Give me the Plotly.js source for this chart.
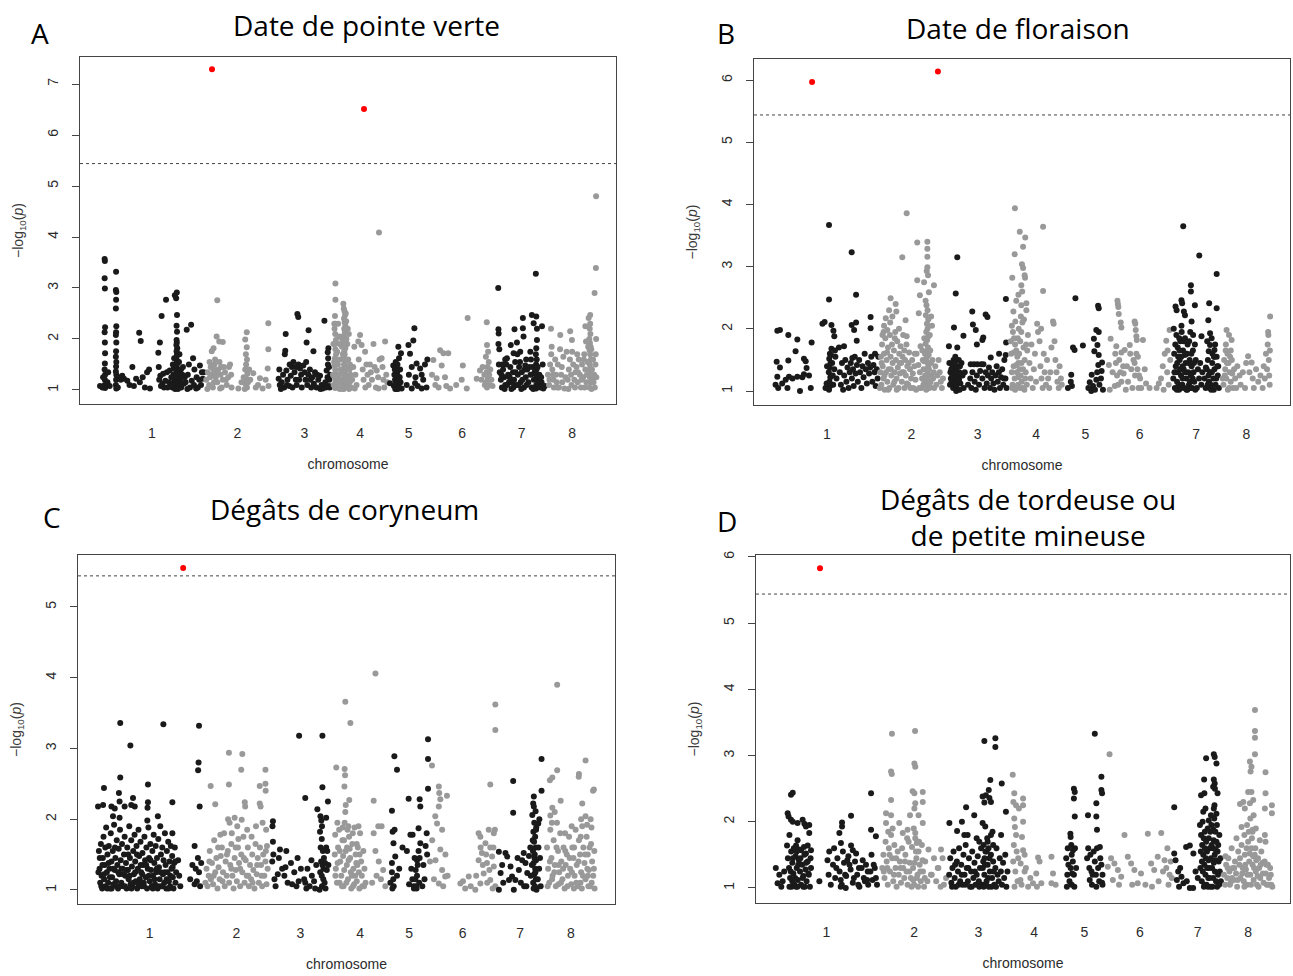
<!DOCTYPE html>
<html>
<head>
<meta charset="utf-8">
<script src="https://cdn.plot.ly/plotly-3.0.1.min.js"></script>
<style>
  html, body { margin: 0; padding: 0; background: #ffffff; }
  #chart { width: 1293px; height: 976px; }
</style>
</head>
<body>
<div id="chart"></div>
<script>
// Peach genome: 8 chromosomes, lengths in Mb
const chromosomes = ['1', '2', '3', '4', '5', '6', '7', '8'];
const chromLengthsMb = [47.9, 30.4, 27.4, 25.8, 18.5, 30.8, 22.4, 22.6];
const significanceLine = 5.44;

const traitTitles = [
  'Date de pointe verte',
  'Date de floraison',
  'Dégâts de coryneum',
  'Dégâts de tordeuse ou<br>de petite mineuse'
];
const panelLetters = ['A', 'B', 'C', 'D'];

// SNP results, one list per chromosome: position (Mb), -log10(p), position, -log10(p), ...
const snpPointeVerte = [
  [0.1,1.08, 2.2,3.57, 2.3,3.53, 2.2,3.19, 2.3,2.99, 2.4,2.23, 2.2,2.13, 2.3,1.93, 2.4,1.72, 2.3,1.52, 2.2,1.40, 2.4,1.30, 2.3,1.20, 2.2,1.10, 2.4,1.04,
   1.5,1.25, 3.5,1.15, 1.2,1.05, 3.8,1.35, 4.5,1.08,
   7.4,3.32, 7.3,2.96, 7.5,2.92, 7.4,2.77, 7.3,2.60, 7.5,2.25, 7.4,2.13, 7.3,2.08, 7.5,1.93, 7.4,1.76, 7.3,1.65, 7.5,1.55, 7.4,1.46, 7.3,1.36, 7.5,1.30, 7.4,1.20, 7.3,1.10, 7.5,1.03,
   8.5,1.25, 9.5,1.20, 8.2,1.05, 10.2,1.28, 11,1.22, 12.5,1.18, 13.5,1.10, 14.8,1.45, 15.5,1.08, 16.5,1.22, 17.9,2.12, 18.6,1.96, 18.2,1.15, 19.5,1.25, 20.5,1.05, 21.5,1.35, 22.4,1.40, 22.8,1.03,
   26.6,1.73, 27.3,1.93, 28.1,2.45, 30.1,2.77, 26.8,1.45, 27.5,1.28, 28.5,1.12, 29.2,1.05, 27.0,1.20, 30.5,1.35, 31.5,1.15, 32.5,1.25, 33.2,1.50, 33.0,1.05,
   34.1,2.86, 35.0,2.91, 34.7,2.80, 35.1,2.47, 34.9,2.26, 35.1,2.14, 34.9,1.98, 35.0,1.93, 34.8,1.88, 35.2,1.82, 34.9,1.76, 35.1,1.70, 34.8,1.64, 35.0,1.58, 35.2,1.52, 34.9,1.46, 35.1,1.40, 34.8,1.34, 35.0,1.28, 35.2,1.22, 34.9,1.16, 35.1,1.10, 34.8,1.04,
   33.8,1.62, 36.0,1.55, 33.5,1.30, 36.2,1.35, 36.5,1.20, 33.8,1.15, 36.6,1.08, 37.5,1.30, 38.2,1.12, 37.8,1.45,
   39.5,2.18, 41.5,2.28, 42.4,1.62, 43.0,1.40, 44.0,1.25, 45.5,1.48, 46.0,1.10, 40.0,1.30, 41.0,1.05, 43.8,1.03, 46.8,1.22, 39.0,1.15, 40.5,1.50, 47.2,1.35,
   27.8,1.08, 28.8,1.32, 29.8,1.18, 30.8,1.05, 31.8,1.38, 32.8,1.10, 33.6,1.42, 34.4,1.50, 34.5,1.20, 35.6,1.30, 35.8,1.12, 36.2,1.70, 37.0,1.05, 38.6,1.25, 39.8,1.02, 41.8,1.18, 42.8,1.10, 44.6,1.05, 45.2,1.20, 46.4,1.35, 34.2,1.02, 35.5,1.02, 33.9,1.25, 36.9,1.40],
  [3.1,7.29, 5.5,2.76, 5.2,2.05, 6.4,1.95, 8.0,1.94, 3.8,1.82, 3.0,1.76,
   0.5,1.20, 1.2,1.35, 1.8,1.10, 2.5,1.45, 3.2,1.30, 3.5,1.05, 4.2,1.50, 4.8,1.25, 5.5,1.15, 6.0,1.40, 6.5,1.55, 7.0,1.30, 7.5,1.05, 8.0,1.20, 8.5,1.45, 9.0,1.35, 9.8,1.10, 10.5,1.25, 11.3,1.50, 12.0,1.05, 4.5,1.60, 2.0,1.55, 6.8,1.03, 3.8,1.40,
   18.9,2.13, 18.2,1.99, 18.9,1.84, 18.5,1.70, 19.0,1.60, 18.6,1.50, 18.2,1.40, 19.2,1.32, 18.7,1.22, 18.3,1.12, 19.0,1.05, 17.5,1.25, 20.0,1.40, 16.5,1.15, 15.1,1.03, 20.5,1.20,
   21.9,1.33, 24.9,1.23, 24.0,1.10, 26.1,1.03, 23.0,1.05, 28.7,2.31, 28.7,1.80, 28.4,1.42, 28.8,1.08, 27.5,1.20,
   1.0,1.02, 2.2,1.25, 4.0,1.15, 5.0,1.35, 7.2,1.45, 9.4,1.20, 10.8,1.45, 11.8,1.30, 18.0,1.02, 19.5,1.15],
  [6.2,2.10, 6.0,1.77, 5.8,1.70, 11.5,2.49, 11.9,2.43, 16.6,2.17, 15.7,1.93, 18.8,1.76, 23.8,2.36, 25.6,1.82, 25.3,1.74, 25.5,1.62, 25.4,1.50,
   3.0,1.22, 3.5,1.10, 4.4,1.15, 5.0,1.30, 5.5,1.05, 6.5,1.38, 7.0,1.20, 7.8,1.08, 8.5,1.28, 9.0,1.45, 9.7,1.55, 10.2,1.35, 10.8,1.20, 11.2,1.10, 12.0,1.50, 12.7,1.42, 13.2,1.30, 13.5,1.05, 14.2,1.48, 14.8,1.35, 15.2,1.20, 16.0,1.10, 16.5,1.30, 17.2,1.40, 17.8,1.05, 18.3,1.25, 19.0,1.12, 19.5,1.35, 20.2,1.05, 21.0,1.20, 21.8,1.28, 22.5,1.10, 23.0,1.03, 24.2,1.15, 24.8,1.38, 25.2,1.25, 25.8,1.08, 26.2,1.05, 26.4,1.30,
   3.3,1.40, 4.0,1.02, 6.8,1.10, 8.0,1.50, 9.3,1.05, 11.0,1.45, 12.3,1.20, 15.5,1.55, 17.5,1.20, 20.5,1.30, 22.0,1.02, 24.5,1.05, 26.0,1.20, 25.9,1.45],
  [14.4,6.51, 1.4,3.09, 1.4,2.77, 5.0,2.69, 5.2,2.60, 5.5,2.55, 5.8,2.47, 5.3,2.40, 5.6,2.33, 5.9,2.26, 5.4,2.20, 5.7,2.13, 5.1,2.06, 5.8,2.00, 5.5,1.94, 5.2,1.88, 5.9,1.82, 5.4,1.76, 5.6,1.70, 5.1,1.63, 5.8,1.57, 5.3,1.50, 5.6,1.44, 5.9,1.38, 5.2,1.32, 5.5,1.26, 5.8,1.20, 5.3,1.14, 5.6,1.08, 5.1,1.02,
   1.2,2.45, 1.5,2.30, 1.0,2.20, 1.3,2.10, 1.6,1.98, 1.1,1.90, 1.4,1.80, 1.7,1.70, 1.2,1.62, 1.5,1.55, 1.0,1.48, 1.3,1.40, 1.6,1.32, 1.1,1.25, 1.4,1.18, 1.7,1.10, 1.2,1.04,
   2.5,1.50, 3.0,1.30, 2.8,1.15, 3.5,1.60, 3.8,1.40, 4.0,1.20, 4.3,1.05, 2.2,1.75, 3.3,1.90, 4.5,2.00, 7.0,2.20, 6.8,1.90, 7.2,1.60, 6.5,1.45, 7.5,1.25, 6.9,1.10, 8.0,1.50, 8.2,1.30, 8.5,1.05, 7.5,2.10,
   9.0,1.20, 9.5,1.45, 10.0,1.85, 10.5,1.30, 11.0,1.10, 11.8,1.95, 12.6,2.08, 12.0,1.60, 13.3,1.88, 13.8,1.40, 14.2,1.20, 14.9,1.75, 15.5,1.50, 16.0,1.30, 16.5,1.10, 17.1,1.50, 17.5,1.35, 18.0,1.20, 18.7,1.90, 19.2,1.45, 19.8,1.05, 20.2,1.38, 20.8,1.25, 21.2,4.09, 21.5,1.60, 22.4,1.62, 22.8,1.45, 23.2,1.20, 23.6,1.05, 24.0,1.95, 24.5,1.30, 25.0,1.15, 10.2,1.03, 15.0,1.05, 21.0,1.03,
   0.3,1.30, 0.6,1.10, 0.8,1.55, 0.5,1.90, 0.9,2.30, 2.0,1.25, 2.3,1.05, 3.6,1.15, 4.6,1.35, 4.8,1.70, 6.2,1.05, 6.2,1.60, 6.4,2.00, 6.6,1.25, 7.8,1.40, 7.9,1.15, 4.4,1.85, 3.1,2.05, 2.6,2.30, 6.1,2.50, 6.3,2.35, 6.0,1.30, 4.9,1.02, 3.4,1.02, 7.6,1.02],
  [11.5,2.21, 11.0,1.97, 8.8,1.88, 4.2,1.85, 5.4,1.72, 9.5,1.71, 4.5,1.62, 1.9,1.48, 3.5,1.38, 2.7,1.20, 4.2,1.10, 0.4,1.13, 5.7,1.03,
   3.0,1.55, 3.3,1.45, 3.6,1.35, 3.9,1.28, 4.1,1.20, 3.2,1.15, 3.7,1.10, 4.4,1.06, 3.4,1.02, 4.8,1.25, 2.4,1.30, 2.2,1.08, 5.0,1.40, 5.2,1.15,
   10.3,1.45, 12.5,1.52, 14.1,1.42, 14.8,1.30, 16.3,1.50, 17.4,1.60, 11.8,1.13, 10.3,1.03, 14.8,1.03, 9.0,1.30, 12.0,1.25, 13.0,1.08, 15.5,1.20, 17.0,1.05, 8.0,1.10,
   2.8,1.02, 3.8,1.50, 4.6,1.18, 2.6,1.40, 4.0,1.02],
  [1.6,1.59, 4.7,1.78, 6.2,1.72, 8.4,1.72, 5.4,1.48, 3.1,1.23, 6.9,1.25, 1.0,1.30, 2.5,1.10, 9.2,1.03, 7.5,1.08, 4.0,1.05, 12.0,1.10, 15.0,1.48, 14.5,1.20, 16.8,1.03, 17.2,2.41, 21.3,1.22, 22.8,1.38,
   25.9,2.33, 26.0,1.88, 26.5,1.75, 25.5,1.65, 26.8,1.55, 26.2,1.45, 25.8,1.35, 27.0,1.30, 26.4,1.22, 25.6,1.15, 27.2,1.10, 26.0,1.05, 27.5,1.40, 28.0,1.20, 24.8,1.30, 25.0,1.10, 28.5,1.08, 24.0,1.45, 23.5,1.20],
  [0.3,3.00, 0.4,2.19, 0.5,2.11, 0.4,1.90, 0.8,1.80, 17.4,3.28, 7.7,2.19, 11.5,2.41, 11.5,2.21, 15.6,2.47, 16.4,2.31, 17.6,2.44, 20.2,2.25, 6.0,1.88, 8.8,1.93, 11.8,2.05, 7.3,1.72, 4.3,1.62, 10.3,1.75,
   17.9,2.20, 17.9,1.98, 17.6,1.82, 17.4,1.70, 17.8,1.60, 17.5,1.50, 17.7,1.40, 17.4,1.30, 17.9,1.20, 17.6,1.10, 17.5,1.03, 14.9,1.75, 12.6,1.48,
   0.6,1.50, 1.0,1.35, 1.5,1.20, 2.0,1.05, 2.5,1.40, 3.0,1.25, 3.5,1.10, 4.0,1.50, 4.8,1.30, 5.2,1.15, 5.8,1.45, 6.3,1.02, 7.0,1.35, 7.5,1.20, 8.0,1.55, 8.5,1.10, 9.2,1.30, 9.8,1.45, 10.5,1.15, 11.0,1.35, 12.0,1.05, 12.8,1.25, 13.5,1.40, 14.0,1.15, 15.0,1.30, 15.5,1.05, 16.0,1.45, 16.5,1.20, 18.5,1.10, 19.0,1.30, 19.5,1.05, 20.0,1.15, 20.8,1.03, 21.5,1.08, 13.0,1.60, 9.0,1.70, 3.5,1.60,
   1.8,1.30, 2.2,1.50, 3.2,1.02, 4.5,1.10, 5.5,1.25, 6.6,1.15, 7.2,1.05, 8.2,1.35, 9.5,1.10, 10.2,1.55, 11.3,1.20, 12.3,1.40, 13.2,1.10, 14.5,1.45, 15.2,1.60, 16.2,1.02, 16.8,1.35, 18.2,1.45, 19.8,1.25, 20.5,1.50, 10.8,1.02],
  [22.4,4.80, 22.3,3.39, 21.7,2.90, 19.7,2.47, 19.0,2.41, 19.7,2.30, 1.9,2.20, 6.1,2.08, 10.6,2.15, 11.4,1.98, 17.5,2.25,
   19.5,2.20, 19.8,2.10, 19.3,2.00, 19.6,1.92, 19.9,1.85, 19.4,1.78, 19.7,1.70, 20.0,1.60, 19.5,1.50, 19.8,1.42, 19.3,1.35, 19.6,1.25, 19.9,1.15, 19.4,1.05, 20.5,1.40, 20.8,1.20, 21.0,1.60, 20.2,1.80, 21.5,1.30, 21.8,1.05,
   0.5,1.30, 1.0,1.10, 1.5,1.50, 2.0,1.70, 2.2,1.85, 2.5,1.40, 3.0,1.20, 3.2,1.05, 3.8,1.60, 4.2,1.30, 4.5,1.15, 5.0,1.50, 5.5,1.05, 6.0,1.80, 6.5,1.30, 7.0,1.15, 8.0,1.03, 9.5,1.20, 10.0,1.40, 10.5,1.60, 11.0,1.30, 11.5,1.75, 12.0,1.50, 12.5,1.20, 13.0,1.35, 13.5,1.45, 14.0,1.15, 14.5,1.60, 15.0,1.30, 15.5,1.05, 16.0,1.50, 16.5,1.25, 17.0,1.70, 17.5,1.40, 18.0,1.15, 18.5,1.55, 18.8,1.85, 9.0,1.75, 7.5,1.65, 17.8,1.95,
   1.2,1.20, 2.8,1.30, 4.8,1.05, 6.8,1.45, 8.5,1.25, 9.8,1.02, 11.2,1.10, 12.8,1.05, 14.2,1.35, 15.8,1.20, 17.2,1.05, 18.2,1.30, 20.3,1.02, 21.2,1.15, 22.1,1.50, 22.4,2.00, 22.2,1.70, 22.5,1.25, 16.8,1.60, 13.8,1.70]
];

const snpFloraison = [
  [17.4,5.97, 1.6,1.97, 2.8,1.98, 6.6,1.90, 10.7,1.83, 9.9,1.64, 13.7,1.52, 14.5,1.48, 17.2,1.78, 1.3,1.47, 2.8,1.38, 6.6,1.49, 1.6,1.23, 5.4,1.18, 6.9,1.23, 10.7,1.23, 13.0,1.22, 13.7,1.27, 0.8,1.10, 6.2,1.05, 11.9,1.00, 16.8,1.05, 14.9,1.37, 3.8,1.12, 8.5,1.20, 16.0,1.25, 2.0,1.05,
   22.1,2.08, 23.1,2.11, 25.1,3.67, 25.1,2.47, 26.2,2.06, 27.1,1.97, 27.5,1.88, 26.2,1.68, 27.8,1.65, 29.6,1.70, 31.9,1.72,
   25.5,1.60, 25.2,1.52, 25.8,1.45, 25.4,1.38, 25.0,1.30, 25.7,1.22, 25.3,1.15, 25.6,1.08, 25.1,1.02, 26.5,1.45, 26.8,1.25, 27.0,1.10, 24.2,1.40, 24.0,1.12, 23.5,1.05, 27.5,1.35, 28.0,1.55, 28.5,1.20, 26.0,1.58,
   35.4,3.23, 37.4,2.55, 35.4,2.06, 37.4,2.10, 36.5,1.98, 37.7,1.81, 44.0,2.19, 44.0,2.01, 35.7,1.53,
   30.0,1.30, 30.5,1.10, 31.0,1.45, 31.5,1.02, 32.0,1.25, 32.5,1.50, 33.0,1.15, 33.5,1.38, 34.0,1.05, 34.5,1.30, 35.0,1.45, 35.5,1.20, 36.0,1.35, 36.3,1.08, 36.8,1.55, 37.2,1.28, 37.8,1.42, 38.2,1.15, 38.8,1.50, 39.2,1.30, 39.8,1.05, 40.3,1.40, 40.8,1.22, 41.3,1.60, 41.8,1.35, 42.3,1.12, 42.8,1.45, 43.3,1.28, 43.8,1.38, 44.3,1.55, 44.8,1.15, 45.3,1.42, 45.8,1.30, 46.3,1.08, 46.8,1.35, 47.2,1.20, 47.5,1.55, 46.0,1.60],
  [26.7,6.14, 12.5,3.86, 10.5,3.15, 17.3,3.39, 21.9,3.40, 21.9,3.29, 21.9,3.16, 21.9,2.99, 21.6,2.93, 22.2,2.86, 17.3,2.78, 20.4,2.75, 24.9,2.70, 18.5,2.54, 22.6,2.59, 21.1,2.45, 5.2,2.49, 7.5,2.40, 3.0,2.17, 3.7,1.98, 12.0,2.14, 4.5,2.30, 6.0,2.20, 2.2,2.05,
   21.5,2.38, 22.0,2.30, 21.2,2.22, 22.3,2.15, 21.7,2.08, 22.0,2.00, 21.4,1.95, 22.4,1.88, 21.8,1.82, 21.1,1.76, 22.2,1.70, 21.6,1.64, 22.5,1.58, 21.3,1.52, 21.9,1.46, 22.3,1.40, 21.5,1.34, 22.1,1.28, 21.7,1.22, 22.4,1.16, 21.2,1.10, 21.9,1.04,
   20.5,1.85, 20.8,1.60, 20.2,1.35, 20.6,1.15, 23.0,1.90, 23.2,1.65, 23.5,1.45, 23.8,1.25, 23.0,1.08, 24.2,1.50, 24.5,1.20, 19.8,1.50, 19.5,1.20, 18.8,1.72, 18.5,1.30, 25.5,1.40, 26.0,1.10, 25.0,1.05, 19.2,1.05, 24.0,2.05, 18.0,2.25, 23.6,2.20,
   0.5,1.30, 0.8,1.55, 1.0,1.10, 1.3,1.75, 1.6,1.40, 1.9,1.20, 2.2,1.60, 2.5,1.02, 2.8,1.85, 3.1,1.30, 3.4,1.50, 3.7,1.15, 4.0,1.70, 4.3,1.35, 4.6,1.05, 4.9,1.90, 5.2,1.55, 5.5,1.25, 5.8,1.75, 6.1,1.45, 6.4,1.10, 6.7,1.65, 7.0,1.30, 7.3,1.95, 7.6,1.50, 7.9,1.20, 8.2,1.80, 8.5,1.38, 8.8,1.05, 9.1,1.60, 9.4,1.28, 9.7,1.72, 10.0,1.45, 10.3,1.15, 10.6,1.55, 10.9,1.90, 11.2,1.30, 11.5,1.05, 11.8,1.50, 12.1,1.25, 12.4,1.75, 12.8,1.40, 13.2,1.10, 13.6,1.62, 14.0,1.35, 14.5,1.20, 15.0,1.50, 15.5,1.05, 16.0,1.40, 16.5,1.18, 17.0,1.60, 2.0,1.95, 5.0,2.10, 9.0,2.00, 7.8,2.28, 1.5,1.90, 12.5,1.88,
   27.5,1.30, 28.0,1.15, 28.5,1.05, 27.0,1.50, 29.0,1.20, 26.5,1.25,
   0.3,1.05, 1.1,1.45, 2.4,1.25, 3.6,1.62, 4.1,1.02, 5.3,1.35, 6.9,1.15, 7.1,1.85, 8.0,1.02, 9.3,1.45, 10.5,1.30, 11.4,1.65, 12.6,1.12, 13.4,1.45, 14.2,1.05, 15.3,1.28, 16.2,1.60, 16.8,1.02, 17.8,1.42, 18.2,1.05, 19.6,1.65, 20.1,1.10, 20.9,1.25, 21.4,1.02, 22.6,1.35, 22.8,1.05, 23.4,1.15, 24.8,1.30, 21.8,1.55, 20.4,1.48],
  [5.1,3.15, 4.4,2.57, 3.6,2.02, 7.9,1.89, 1.3,1.72, 5.1,1.70, 11.9,2.28, 12.2,2.07, 13.5,1.98, 18.8,2.19, 18.0,2.23, 16.5,1.82, 16.9,1.86, 20.3,1.54, 14.0,1.75,
   1.5,1.45, 2.0,1.30, 2.5,1.15, 3.0,1.40, 3.5,1.22, 4.0,1.08, 4.5,1.35, 5.0,1.18, 5.5,1.02, 6.0,1.30, 6.5,1.12, 7.0,1.45, 7.5,1.25, 8.0,1.05, 4.2,1.55, 5.8,1.50, 3.2,1.05, 4.8,1.10, 5.2,1.25, 4.6,1.00, 5.6,1.15, 6.3,1.40, 2.2,1.20, 8.5,1.30,
   11.2,1.43, 12.7,1.43, 14.2,1.43, 16.0,1.43, 17.0,1.43, 11.0,1.20, 11.5,1.05, 12.0,1.30, 13.0,1.15, 13.5,1.02, 14.0,1.25, 15.0,1.10, 15.5,1.32, 16.5,1.20, 17.5,1.05, 18.0,1.30, 18.5,1.12, 19.0,1.25, 19.5,1.38, 20.0,1.05, 20.5,1.20, 21.0,1.30, 21.5,1.12, 22.0,1.02, 22.5,1.25, 23.0,1.40, 23.5,1.15, 24.0,1.30, 24.5,1.05, 25.0,1.22, 25.5,1.35, 26.0,1.10, 26.5,1.50, 27.0,1.20, 24.1,1.60, 26.3,1.20, 27.5,1.05, 10.0,1.10,
   27.2,2.48, 27.3,1.78, 27.1,1.58,
   1.8,1.10, 2.4,1.35, 3.4,1.50, 3.8,1.30, 4.4,1.15, 5.0,1.40, 5.4,1.30, 6.2,1.02, 6.8,1.25, 2.8,1.25, 4.0,1.45, 4.7,1.22, 5.9,1.18],
  [3.9,3.94, 6.1,3.56, 8.6,3.47, 7.6,3.32, 3.8,3.20, 7.1,3.04, 7.6,2.98, 8.3,2.86, 8.5,2.82, 2.7,2.82, 6.8,2.70, 7.2,2.60, 5.5,2.55, 6.8,2.38, 9.1,2.41, 9.1,2.30, 4.5,2.45, 16.7,3.64, 16.7,2.61, 3.2,2.28, 2.5,2.05,
   3.0,1.95, 3.5,1.85, 4.0,1.75, 4.5,1.65, 5.0,1.55, 5.5,1.45, 6.0,1.35, 6.5,1.25, 7.0,1.15, 7.5,1.05, 3.3,1.40, 3.8,1.20, 4.3,1.05, 4.8,1.30, 5.3,1.10, 5.8,1.60, 6.3,1.80, 6.8,1.95, 7.3,2.10, 7.8,1.70, 8.3,1.50, 8.8,1.30, 9.3,1.10, 9.8,1.90, 2.2,1.60, 2.5,1.30, 2.8,1.10, 6.6,2.20, 8.0,2.15, 9.5,1.65, 5.6,2.00, 4.1,2.12, 2.0,1.80,
   10.5,1.45, 11.0,1.20, 11.4,1.75, 12.0,1.05, 12.5,1.35, 13.0,1.60, 13.5,1.15, 14.0,2.08, 14.4,1.95, 15.1,1.80, 15.5,1.40, 16.0,1.20, 16.5,1.05, 17.0,1.60, 17.4,1.30, 18.0,1.10, 18.5,1.50, 19.0,1.20, 19.5,1.05, 20.0,1.30, 20.5,1.70, 21.2,2.12, 21.5,2.08, 21.9,1.80, 22.3,1.50, 22.8,1.30, 23.2,1.15, 23.8,1.05, 24.2,1.40, 24.8,1.20, 25.2,1.10, 15.8,2.00,
   2.6,1.05, 3.4,1.62, 4.6,1.42, 5.2,1.85, 6.2,1.05, 6.9,1.45, 7.6,1.35, 8.6,1.20, 9.0,1.75, 4.0,1.02, 5.5,1.22, 8.2,1.02],
  [5.6,2.49, 4.5,1.70, 5.2,1.66, 9.0,1.73, 15.9,2.37, 16.2,2.33, 15.1,1.98, 16.2,1.95, 14.0,1.84, 15.6,1.74, 14.2,1.64, 16.2,1.58, 17.7,1.46, 17.5,1.32, 17.2,1.20, 3.7,1.26, 4.0,1.08, 2.2,1.05, 12.1,1.14, 13.6,1.08, 15.1,1.18, 13.0,1.26, 16.5,1.10, 18.1,1.02, 14.5,1.02, 12.8,1.00, 15.5,1.30, 16.0,1.42, 3.5,1.15, 11.5,1.05],
  [6.2,2.45, 6.4,2.40, 6.6,2.35, 6.8,2.24, 7.7,2.10, 8.0,2.02, 14.0,2.12, 14.3,2.08, 14.5,1.98, 14.8,1.88, 15.0,1.82, 17.8,1.82, 3.1,1.84, 5.7,1.72, 5.2,1.60, 2.3,1.42, 8.0,1.62, 9.5,1.66, 11.8,1.74, 10.5,1.40, 12.5,1.35, 14.0,1.45, 14.8,1.60, 15.3,1.35, 9.0,1.28, 8.0,1.15, 6.5,1.10, 16.5,1.20, 18.6,1.35, 19.2,1.12, 20.8,1.05, 5.0,1.08, 2.7,1.02, 13.0,1.05, 11.0,1.15, 7.0,1.50, 15.5,1.55, 16.0,1.25, 4.0,1.30, 12.0,1.60, 17.0,1.05, 10.0,1.02,
   28.4,1.81, 27.7,1.60, 29.9,1.98, 26.0,1.20, 26.8,1.40, 24.0,1.05, 28.8,1.30, 29.5,1.10, 30.2,1.50, 27.2,1.02, 25.0,1.12, 29.0,1.65,
   5.5,1.45, 6.0,1.25, 7.5,1.30, 13.5,1.50, 14.2,1.25, 15.8,1.05, 8.8,1.40],
  [5.3,3.65, 12.6,3.18, 20.5,2.88, 8.8,2.70, 8.8,2.60, 4.5,2.46, 4.8,2.41, 1.8,2.36, 2.3,2.30, 5.6,2.28, 6.1,2.22, 10.6,2.38, 17.1,2.41, 20.5,2.33, 16.7,2.14, 4.5,2.05, 9.1,2.12, 13.6,1.88, 9.8,1.90, 17.5,1.93, 18.2,1.85, 17.5,1.74, 16.9,1.64, 19.5,1.66, 19.4,1.55,
   0.8,1.20, 1.2,1.60, 1.5,1.05, 1.9,1.40, 2.2,1.90, 2.5,1.15, 2.8,1.70, 3.1,1.30, 3.4,1.02, 3.7,1.50, 4.0,1.80, 4.3,1.25, 4.6,1.95, 4.9,1.10, 5.2,1.65, 5.5,1.35, 5.8,1.05, 6.1,1.85, 6.4,1.45, 6.7,1.20, 7.0,1.60, 7.3,1.75, 7.6,1.30, 7.9,1.10, 8.2,1.50, 8.5,1.95, 8.8,1.25, 9.1,1.40, 9.4,1.05, 9.7,1.65, 10.0,1.30, 10.3,1.15, 10.6,1.75, 11.0,1.50, 11.5,1.05, 12.0,1.35, 12.5,1.20, 13.0,1.45, 13.5,1.10, 14.0,1.30, 3.0,1.55, 5.0,1.40, 6.8,1.02, 2.0,1.30, 4.4,1.55, 8.0,1.80, 1.0,2.00, 6.0,1.58, 3.5,1.85,
   15.0,1.20, 15.5,1.05, 16.0,1.35, 16.5,1.50, 17.0,1.15, 17.5,1.30, 18.0,1.02, 18.5,1.45, 19.0,1.20, 19.5,1.35, 20.0,1.10, 20.5,1.55, 21.0,1.25, 21.5,1.05, 16.2,1.80, 19.8,1.75, 18.6,1.60, 20.8,1.40, 17.8,1.10, 19.2,1.02,
   1.3,1.30, 1.7,1.75, 2.6,1.45, 3.2,1.10, 3.9,1.35, 4.2,1.05, 5.0,1.20, 5.4,1.80, 6.2,1.30, 6.6,1.60, 7.2,1.02, 7.8,1.45, 8.4,1.15, 9.0,1.60, 9.6,1.20, 10.2,1.45, 10.8,1.02, 2.4,1.02, 3.6,1.65, 8.6,1.05, 16.8,1.25, 17.3,1.05, 18.3,1.30, 19.3,1.55, 20.3,1.20, 16.4,1.10, 21.2,1.40, 15.6,1.38],
  [2.6,1.98, 3.7,1.90, 4.9,1.82, 4.5,1.65, 1.5,1.50, 2.0,1.35, 2.5,1.20, 3.0,1.60, 3.5,1.45, 4.0,1.30, 4.5,1.15, 5.0,1.50, 5.5,1.05, 1.2,1.10, 3.2,1.02, 6.0,1.35, 6.5,1.20, 7.0,1.05, 7.5,1.40, 8.5,1.25, 9.0,1.10, 10.0,1.30, 11.0,1.05, 11.5,1.45, 12.4,1.56, 13.0,1.30, 14.0,1.46, 14.5,1.20, 15.0,1.05, 16.0,1.35, 17.0,1.15, 18.0,1.25, 19.0,1.05, 19.5,1.40, 20.0,1.20, 20.5,1.60, 21.0,1.35, 21.5,1.95, 21.6,1.90, 21.3,1.75, 21.8,1.50, 22.0,1.25, 22.2,1.10, 22.4,2.20, 22.3,1.65, 2.3,1.75,
   1.8,1.25, 2.8,1.45, 3.8,1.05, 4.2,1.55, 5.2,1.28, 2.2,1.65, 0.8,1.20]
];

const snpCoryneum = [
  [38.8,5.55, 0.1,2.18, 2.4,2.20, 2.8,2.44, 10.2,3.36, 14.8,3.04, 10.2,2.59, 9.6,2.37, 9.9,2.25, 6.2,2.18, 7.7,2.15, 6.9,2.04, 9.9,2.02, 12.2,2.18, 16.0,2.30, 16.8,2.18, 15.2,2.20, 22.8,2.49, 22.8,2.24, 22.6,2.16, 27.3,2.04, 22.5,1.98, 29.8,3.34, 33.9,2.24, 33.9,1.80, 46.0,3.32, 45.8,2.80, 45.6,2.69, 46.3,2.18, 44.0,1.62,
   0.5,1.55, 0.8,1.30, 1.1,1.10, 1.4,1.65, 1.7,1.20, 2.0,1.02, 2.3,1.45, 2.6,1.75, 2.9,1.15, 3.2,1.35, 3.5,1.05, 3.8,1.88, 4.1,1.25, 4.4,1.50, 4.7,1.10, 5.0,1.62, 5.3,1.30, 5.6,1.02, 5.9,1.80, 6.2,1.40, 6.5,1.18, 6.8,1.55, 7.1,1.08, 7.4,1.92, 7.7,1.28, 8.0,1.45, 8.3,1.12, 8.6,1.70, 8.9,1.35, 9.2,1.02, 9.5,1.58, 9.8,1.22, 10.1,1.85, 10.4,1.42, 10.7,1.10, 11.0,1.65, 11.3,1.30, 11.6,1.05, 11.9,1.50, 12.2,1.75, 12.5,1.20, 12.8,1.38, 13.1,1.02, 13.4,1.60, 13.7,1.28, 14.0,1.15, 14.3,1.90, 14.6,1.45, 14.9,1.08, 15.2,1.70, 15.5,1.33, 15.8,1.05, 16.1,1.55, 16.4,1.22, 16.7,1.78, 17.0,1.40, 17.3,1.12, 17.6,1.62, 17.9,1.02, 18.2,1.30, 18.5,1.85, 18.8,1.48, 19.1,1.15, 19.4,1.68, 19.7,1.25, 20.0,1.05, 20.3,1.52, 20.6,1.35, 20.9,1.10, 21.2,1.75, 21.5,1.42, 21.8,1.18, 22.1,1.60, 22.4,1.02, 22.7,1.30, 23.0,1.88, 23.3,1.45, 23.6,1.12, 23.9,1.65, 24.2,1.28, 24.5,1.05, 24.8,1.55, 25.1,1.20, 25.4,1.78, 25.7,1.38, 26.0,1.08, 26.3,1.62, 26.6,1.25, 26.9,1.45, 27.2,1.02, 27.5,1.72, 27.8,1.32, 28.1,1.15, 28.4,1.90, 28.7,1.50, 29.0,1.05, 29.3,1.60, 29.6,1.22, 29.9,1.42, 30.2,1.10, 30.5,1.80, 30.8,1.35, 31.1,1.02, 31.4,1.55, 31.7,1.25, 32.0,1.68, 32.3,1.12, 32.6,1.40, 32.9,1.05, 33.2,1.62, 33.5,1.30, 33.8,1.48, 34.1,1.18, 34.4,1.02, 34.7,1.38, 35.0,1.60, 35.3,1.10, 35.6,1.25,
   36.5,1.42, 37.0,1.20, 37.5,1.05, 42.0,1.15, 43.0,1.35, 44.5,1.30, 45.0,1.12, 45.5,1.45, 46.0,1.25, 46.5,1.05, 47.0,1.38, 44.0,1.08,
   0.3,1.25, 0.9,1.45, 1.6,1.05, 2.1,1.35, 2.8,1.22, 3.4,1.60, 4.3,1.02, 4.9,1.38, 5.5,1.18, 6.3,1.02, 7.0,1.30, 7.8,1.60, 8.5,1.05, 9.3,1.25, 10.0,1.05, 10.8,1.30, 11.5,1.22, 12.3,1.05, 13.0,1.28, 13.8,1.50, 14.5,1.20, 15.3,1.02, 16.2,1.10, 17.0,1.25, 17.8,1.50, 18.6,1.08, 19.5,1.35, 20.2,1.22, 21.0,1.05, 22.0,1.35, 23.2,1.20, 24.0,1.42, 25.0,1.02, 25.8,1.15, 26.8,1.30, 27.6,1.05, 28.6,1.25, 29.4,1.05, 30.4,1.25, 31.3,1.15, 32.2,1.02, 33.0,1.20, 34.0,1.32, 35.2,1.40],
  [3.4,2.47, 5.5,2.21, 11.7,2.94, 17.8,2.92, 17.3,2.70, 11.7,2.49, 18.9,2.24, 19.1,2.18, 25.7,2.47, 28.3,2.70, 28.3,2.50, 28.4,2.40, 25.7,2.22, 26.1,2.18, 17.5,1.99, 14.3,2.02, 11.3,2.00, 12.0,1.95, 15.5,1.90, 9.5,1.80, 5.0,1.70, 3.0,1.55, 8.0,1.48, 20.0,1.85, 22.0,1.75, 24.0,1.90, 27.0,1.95, 28.6,1.85, 29.0,1.62,
   1.0,1.10, 1.5,1.30, 2.0,1.05, 2.5,1.20, 3.5,1.15, 4.0,1.38, 4.5,1.08, 5.5,1.25, 6.0,1.45, 6.5,1.02, 7.0,1.32, 7.5,1.15, 8.5,1.60, 9.0,1.25, 9.8,1.05, 10.2,1.40, 10.7,1.20, 11.2,1.55, 11.8,1.10, 12.3,1.35, 12.8,1.65, 13.3,1.20, 13.8,1.02, 14.3,1.45, 14.8,1.28, 15.3,1.12, 15.8,1.60, 16.3,1.38, 16.8,1.05, 17.3,1.50, 17.8,1.25, 18.3,1.75, 18.8,1.10, 19.3,1.42, 19.8,1.20, 20.3,1.60, 20.8,1.05, 21.3,1.35, 21.8,1.15, 22.3,1.50, 22.8,1.28, 23.3,1.02, 23.8,1.65, 24.3,1.22, 24.8,1.45, 25.3,1.10, 25.8,1.60, 26.3,1.35, 26.8,1.05, 27.3,1.50, 27.8,1.20, 28.3,1.40, 28.8,1.08, 29.3,1.30, 13.0,1.80, 16.0,1.72, 7.8,1.78,
   2.8,1.40, 4.8,1.20, 6.8,1.60, 8.8,1.12, 10.8,1.50, 12.8,1.30, 14.8,1.60, 16.8,1.30, 18.5,1.45, 20.5,1.20, 22.5,1.10, 24.5,1.35, 26.5,1.20, 28.5,1.55],
  [1.3,1.97, 1.1,1.90, 1.3,1.68, 1.5,1.50, 1.0,1.40, 13.2,3.18, 23.8,3.18, 16.0,2.30, 23.8,2.45, 21.5,2.14, 22.9,2.04, 23.3,1.98, 23.6,1.90, 22.7,1.82, 26.3,2.25, 25.5,2.02,
   23.0,1.60, 23.5,1.72, 24.0,1.55, 24.5,1.45, 23.2,1.40, 23.8,1.35, 24.3,1.30, 22.8,1.25, 23.5,1.20, 24.2,1.15, 25.0,1.38, 25.5,1.60, 25.8,1.28, 24.8,1.10, 23.6,1.05, 22.5,1.00, 25.2,1.02, 26.0,1.55, 26.5,1.35,
   4.5,1.57, 4.0,1.45, 5.5,1.30, 7.4,1.55, 3.5,1.22, 6.5,1.20, 9.5,1.38, 11.0,1.25, 8.0,1.10, 12.0,1.05, 14.0,1.30, 15.5,1.15, 17.0,1.30, 18.0,1.05, 19.0,1.20, 20.0,1.12, 21.0,1.35, 2.5,1.05, 10.0,1.08, 16.5,1.02, 13.0,1.12, 18.8,1.42, 20.5,1.02, 2.0,1.15, 7.0,1.32, 12.5,1.45, 16.0,1.10],
  [20.5,4.06, 6.8,3.66, 9.1,3.36, 2.7,2.73, 6.5,2.71, 6.7,2.62, 6.4,2.46, 8.6,2.27, 7.0,2.20, 6.8,2.10, 19.7,2.26, 19.7,1.80, 21.8,1.90, 23.3,1.90, 20.5,1.55, 22.0,1.40, 24.0,1.28, 19.0,1.10, 25.0,1.05, 21.0,1.20, 23.0,1.15,
   2.0,1.50, 2.5,1.30, 3.0,1.10, 3.5,1.60, 4.0,1.85, 4.5,1.40, 5.0,1.20, 5.5,1.70, 6.0,1.05, 6.5,1.95, 7.0,1.55, 7.5,1.35, 8.0,1.15, 8.5,1.75, 9.0,1.45, 9.5,1.02, 10.0,1.65, 10.5,1.30, 11.0,1.88, 11.5,1.50, 12.0,1.12, 12.5,1.60, 13.0,1.25, 13.5,1.80, 14.0,1.40, 14.5,1.05, 15.0,1.55, 15.5,1.30, 16.0,1.10, 3.2,1.95, 7.8,1.85, 9.8,1.20, 11.8,1.38, 5.8,1.48, 13.2,1.02, 4.2,1.10, 10.8,1.08, 2.2,1.78, 8.8,1.58, 12.8,1.90,
   2.3,1.20, 3.3,1.38, 4.3,1.55, 5.3,1.05, 6.3,1.28, 7.3,1.10, 8.3,1.42, 9.3,1.25, 10.3,1.05, 11.3,1.20, 12.3,1.35, 13.3,1.50, 14.3,1.20, 15.3,1.05, 6.2,1.70, 8.2,1.90, 10.2,1.80, 12.0,1.65, 5.6,1.88, 7.6,1.60],
  [3.3,2.89, 4.5,2.70, 2.2,2.12, 2.5,1.82, 3.4,1.85, 2.9,1.66, 3.7,1.47, 18.6,3.13, 18.6,2.85, 18.6,2.43, 14.8,2.28, 15.1,2.18, 9.8,2.29, 11.6,1.78, 10.6,1.78, 14.3,1.87, 15.1,1.66, 14.3,1.55, 12.5,1.45, 13.6,1.42, 2.2,1.38, 2.2,1.25, 4.5,1.20, 1.5,1.10, 13.0,1.28, 13.6,1.20, 14.6,1.10, 12.1,1.05, 7.0,1.60, 9.0,1.55, 5.5,1.30, 18.0,1.80, 17.5,1.62, 16.5,1.35, 17.0,1.15, 11.0,1.30, 11.5,1.15, 12.2,1.02, 13.2,1.05, 3.0,1.05, 10.0,1.08, 18.2,1.50, 16.0,1.05,
   2.4,1.02, 13.9,1.35, 14.8,1.45, 12.8,1.15, 13.4,1.02, 2.8,1.15],
  [1.9,2.76, 5.0,2.46, 5.2,2.37, 5.7,2.28, 8.7,2.33, 5.0,2.18, 3.4,2.04, 4.2,1.94, 6.5,1.85, 2.0,1.70, 5.7,1.57, 3.5,1.42, 6.5,1.28, 5.0,1.09, 7.9,1.19, 1.0,1.40, 7.0,1.05, 8.0,1.50, 9.0,1.20, 2.8,1.15, 14.8,1.09, 18.6,1.19, 17.0,1.02, 19.5,1.05, 16.0,1.12,
   30.7,3.62, 30.7,3.26, 28.4,2.49, 23.1,1.80, 23.9,1.75, 27.7,1.85, 30.0,1.80, 30.5,1.85, 26.2,1.66, 28.4,1.60, 24.6,1.52, 29.2,1.47, 23.1,1.42, 26.9,1.38, 30.0,1.33, 25.4,1.23, 28.4,1.14, 23.9,1.09, 21.6,1.00, 30.7,1.05, 22.0,1.20, 27.0,1.10, 29.5,1.02, 25.0,1.35, 28.0,1.28, 24.0,1.60, 26.5,1.50, 29.8,1.60],
  [8.0,2.54, 8.0,2.09, 20.9,2.85, 20.9,2.40, 17.4,2.32, 17.1,2.22, 17.4,2.18, 18.2,2.11, 16.7,2.06, 19.9,2.00, 19.4,1.94, 18.5,1.88, 17.2,1.82, 18.0,1.75, 17.5,1.68, 18.2,1.60, 17.0,1.55, 17.8,1.50, 18.4,1.42, 17.3,1.38, 18.0,1.30, 17.6,1.22, 18.3,1.15, 17.1,1.10, 17.9,1.05, 18.6,1.00, 19.5,1.60, 19.8,1.30, 20.2,1.45, 19.2,1.15, 20.5,1.05, 16.5,1.35, 16.0,1.20, 15.2,1.48, 15.8,1.60,
   4.5,1.52, 1.5,1.54, 5.3,1.47, 6.8,1.33, 7.5,1.19, 9.0,1.14, 2.3,1.24, 1.5,1.00, 6.1,1.14, 8.3,1.00, 10.6,1.28, 12.1,1.42, 12.8,1.52, 13.6,1.38, 14.4,1.24, 11.5,1.10, 13.0,1.05, 3.5,1.10, 10.0,1.45, 14.0,1.05, 3.0,1.35,
   17.7,1.45, 18.1,1.25, 17.3,1.02, 16.9,1.70, 18.4,1.85, 17.6,1.95],
  [5.6,3.90, 3.4,2.59, 2.3,2.55, 5.6,2.69, 7.2,2.26, 3.4,2.16, 15.5,2.64, 15.4,2.60, 18.5,2.83, 17.0,2.22, 22.3,2.42, 21.9,2.40, 18.5,2.04, 20.8,2.00, 16.5,2.00, 4.5,2.10, 2.5,2.05,
   1.0,1.60, 1.5,1.30, 2.0,1.10, 2.5,1.85, 3.0,1.45, 3.5,1.20, 4.0,1.70, 4.5,1.35, 5.0,1.05, 5.5,1.95, 6.0,1.55, 6.5,1.25, 7.0,1.80, 7.5,1.40, 8.0,1.15, 8.5,1.60, 9.0,1.02, 9.5,1.35, 10.0,1.50, 10.5,1.20, 11.0,1.75, 11.5,1.30, 12.0,1.08, 12.5,1.60, 13.0,1.45, 13.5,1.20, 14.0,1.85, 14.5,1.35, 15.0,1.05, 15.5,1.70, 16.0,1.50, 16.5,1.25, 17.0,1.90, 17.5,1.60, 18.0,1.38, 18.5,1.15, 19.0,1.75, 19.5,1.50, 20.0,1.28, 20.5,1.05, 21.0,1.65, 21.5,1.40, 22.0,1.20, 22.5,1.55, 22.6,1.02, 3.2,1.95, 9.2,1.80, 12.2,1.90, 19.2,1.92, 16.2,1.10, 21.2,1.88, 6.2,1.08, 13.2,1.02, 19.8,1.05,
   1.3,1.05, 2.3,1.40, 3.3,1.15, 4.3,1.25, 5.3,1.60, 6.3,1.35, 7.3,1.10, 8.3,1.30, 9.3,1.55, 10.3,1.05, 11.3,1.45, 12.3,1.25, 13.3,1.60, 14.3,1.10, 15.3,1.40, 16.3,1.75, 17.3,1.20, 18.3,1.50, 19.3,1.30, 20.3,1.60, 21.3,1.10, 22.3,1.30, 16.8,1.02, 19.6,1.20]
];

const snpTordeuseMineuse = [
  [20.1,5.83, 6.9,2.41, 7.7,2.44, 5.4,2.13, 5.8,2.08, 6.9,2.03, 7.7,2.00, 9.9,1.98, 12.2,2.03, 13.0,1.97, 13.7,1.93, 15.2,1.95, 15.2,1.83, 6.2,1.80, 5.1,1.64, 9.2,1.64, 9.9,1.72, 14.5,1.64, 11.5,1.57, 13.7,1.52, 16.0,1.57,
   5.5,1.45, 6.0,1.30, 6.5,1.15, 7.0,1.55, 7.5,1.38, 8.0,1.22, 8.5,1.05, 9.0,1.48, 9.5,1.30, 10.0,1.12, 10.5,1.42, 11.0,1.25, 11.5,1.05, 12.0,1.35, 12.5,1.18, 13.0,1.50, 13.5,1.28, 14.0,1.10, 14.5,1.40, 15.0,1.20, 15.5,1.02, 16.0,1.30, 8.2,1.60, 10.8,1.58, 12.8,1.62, 7.2,1.02, 9.8,1.02, 13.2,1.02,
   0.0,1.30, 1.6,1.20, 3.1,1.10, 0.8,1.07, 2.5,1.02, 3.8,1.25, 19.8,1.10,
   30.1,1.99, 30.1,1.93, 34.2,2.09, 28.9,1.83, 29.6,1.68, 24.3,1.55, 23.5,1.42, 34.2,1.64, 35.0,1.57, 43.3,2.43, 43.3,1.88, 45.5,1.78,
   24.0,1.20, 25.0,1.05, 26.0,1.35, 27.0,1.15, 28.0,1.45, 29.0,1.25, 30.0,1.05, 31.0,1.38, 32.0,1.18, 33.0,1.48, 34.0,1.28, 35.0,1.08, 36.0,1.40, 37.0,1.20, 38.0,1.02, 39.0,1.30, 40.0,1.15, 41.0,1.35, 42.0,1.05, 43.0,1.25, 44.0,1.12, 45.0,1.30, 46.0,1.05, 26.5,1.60, 30.5,1.55, 32.5,1.42, 36.5,1.52, 40.5,1.10, 44.5,1.35, 31.8,1.00, 37.8,1.30, 29.5,1.12, 41.8,1.25,
   6.2,1.02, 6.8,1.25, 7.8,1.45, 8.8,1.15, 9.5,1.55, 10.2,1.35, 11.2,1.45, 12.2,1.15, 13.8,1.38, 14.8,1.22, 15.8,1.45, 7.5,1.10, 9.2,1.02, 12.5,1.02, 27.5,1.30, 29.5,1.02, 31.5,1.20, 33.5,1.35, 35.5,1.15, 37.5,1.05, 39.5,1.42, 41.5,1.12, 43.5,1.50, 45.5,1.15],
  [4.9,3.33, 15.4,3.37, 4.5,2.76, 4.8,2.72, 15.1,2.88, 15.5,2.83, 4.5,2.33, 2.2,2.13, 4.5,2.10, 2.2,1.98, 5.2,1.90, 14.3,2.46, 15.1,2.43, 15.5,2.28, 18.9,2.45, 18.9,2.30, 15.1,2.20, 13.1,2.10, 17.0,2.10, 18.9,1.98, 8.2,1.98, 9.8,1.83, 12.0,1.88, 15.5,1.83,
   0.5,1.30, 1.0,1.50, 1.5,1.15, 2.0,1.70, 2.5,1.40, 3.0,1.05, 3.5,1.60, 4.0,1.25, 4.5,1.80, 5.0,1.45, 5.5,1.10, 6.0,1.65, 6.5,1.30, 7.0,1.02, 7.5,1.55, 8.0,1.20, 8.5,1.40, 9.0,1.08, 9.5,1.60, 10.0,1.30, 10.5,1.15, 11.0,1.50, 11.5,1.25, 12.0,1.05, 12.5,1.70, 13.0,1.38, 13.5,1.15, 14.0,1.62, 14.5,1.30, 15.0,1.05, 15.5,1.75, 16.0,1.45, 16.5,1.20, 17.0,1.55, 17.5,1.35, 18.0,1.10, 18.5,1.65, 19.0,1.25, 19.5,1.02, 20.0,1.40, 14.8,1.90, 16.2,1.68, 3.2,1.85, 11.8,1.75,
   21.5,1.58, 23.0,1.20, 24.0,1.45, 25.0,1.10, 26.0,1.30, 27.2,1.58, 27.9,1.45, 25.7,1.30, 22.6,1.20, 28.5,1.05, 29.5,1.15, 27.0,1.02, 21.0,1.10,
   1.2,1.25, 2.8,1.30, 3.8,1.50, 5.8,1.20, 6.8,1.45, 8.8,1.30, 10.8,1.40, 12.8,1.25, 13.8,1.02, 14.5,1.12, 15.2,1.38, 16.8,1.02, 17.8,1.25, 18.8,1.42, 19.8,1.15, 16.2,1.15, 15.8,1.55, 17.2,1.70],
  [16.5,3.22, 21.5,3.26, 21.5,3.13, 19.2,2.63, 18.5,2.48, 15.7,2.38, 17.2,2.40, 18.8,2.36, 16.5,2.29, 19.5,2.30, 24.4,2.58, 26.3,2.15, 0.6,1.98, 8.2,2.22, 4.1,1.86, 6.3,2.00, 7.4,1.80, 8.9,1.80, 11.9,2.10, 15.7,1.98, 16.9,1.93, 19.5,1.80, 24.1,1.80, 18.0,1.70, 20.5,1.65, 13.0,1.75,
   0.5,1.20, 1.0,1.45, 1.5,1.08, 2.0,1.30, 2.5,1.55, 3.0,1.15, 3.5,1.02, 4.0,1.40, 4.5,1.25, 5.0,1.60, 5.5,1.10, 6.0,1.35, 6.5,1.05, 7.0,1.50, 7.5,1.20, 8.0,1.65, 8.5,1.30, 9.0,1.10, 9.5,1.45, 10.0,1.02, 10.5,1.25, 11.0,1.55, 11.5,1.15, 12.0,1.38, 12.5,1.05, 13.0,1.20, 13.5,1.48, 14.0,1.10, 14.5,1.30, 15.0,1.60, 15.5,1.05, 16.0,1.40, 16.5,1.20, 17.0,1.55, 17.5,1.10, 18.0,1.35, 18.5,1.02, 19.0,1.25, 19.5,1.50, 20.0,1.15, 20.5,1.40, 21.0,1.05, 21.5,1.30, 22.0,1.60, 22.5,1.20, 23.0,1.10, 23.5,1.45, 24.0,1.25, 24.5,1.05, 25.0,1.38, 25.5,1.15, 26.0,1.50, 26.5,1.02, 27.0,1.25, 17.8,1.75, 20.2,1.85, 16.2,1.65, 14.2,1.70,
   1.8,1.02, 3.2,1.35, 4.8,1.05, 6.2,1.20, 7.8,1.05, 9.2,1.30, 10.8,1.02, 12.2,1.25, 14.2,1.02, 15.8,1.30, 16.2,1.02, 16.8,1.35, 17.2,1.05, 18.2,1.15, 18.8,1.45, 19.8,1.02, 20.8,1.25, 21.8,1.02, 17.6,1.55, 16.6,1.45, 18.4,1.60],
  [2.0,2.71, 2.7,2.43, 2.3,2.30, 3.5,2.25, 2.7,2.05, 3.5,1.80, 4.8,2.20, 3.0,1.92, 2.5,1.65, 3.8,1.55, 2.2,1.40, 3.2,1.25, 4.2,1.10, 2.8,1.02, 4.5,1.45, 6.7,2.35, 6.7,2.25, 6.7,2.00, 6.2,1.77, 6.7,1.57, 7.4,1.50, 5.6,1.37, 7.4,1.25, 5.5,1.12, 6.0,1.05, 8.0,1.30, 13.5,1.46, 14.2,1.40, 12.7,1.22, 11.2,1.07, 15.0,1.07, 13.0,1.02, 19.6,1.47, 20.3,1.22, 19.6,1.07, 21.5,1.05, 10.0,1.15, 9.0,1.02],
  [13.5,3.33, 16.5,2.68, 16.5,2.48, 16.8,2.43, 4.0,2.50, 4.4,2.45, 4.0,2.35, 4.4,2.08, 10.4,2.10, 14.2,2.08, 14.2,2.28, 14.5,1.88, 2.4,1.82, 2.5,1.77, 3.6,1.57, 3.0,1.50,
   0.5,1.45, 1.0,1.20, 1.5,1.35, 2.0,1.10, 2.5,1.30, 3.0,1.05, 3.5,1.40, 4.0,1.20, 4.5,1.60, 5.0,1.30, 1.2,1.60, 2.8,1.65, 0.8,1.02, 4.2,1.02, 3.2,1.22,
   10.0,1.45, 10.5,1.60, 11.0,1.30, 11.5,1.50, 12.0,1.25, 12.5,1.20, 13.0,1.55, 13.5,1.40, 14.0,1.20, 14.5,1.60, 15.0,1.30, 15.5,1.10, 16.0,1.45, 16.5,1.35, 17.0,1.20, 12.2,1.05, 14.2,1.02, 16.8,1.08, 11.2,1.12, 15.8,1.62, 17.0,1.05],
  [1.7,3.02, 8.5,1.80, 0.9,1.32, 2.4,1.45, 3.9,1.37, 5.5,1.27, 7.0,1.17, 3.2,1.12, 10.0,1.47, 11.5,1.37, 13.0,1.27, 16.0,1.22, 14.5,1.07, 19.1,1.82, 25.2,1.83, 20.6,1.37, 22.0,1.27, 23.6,1.47, 26.7,1.42, 28.0,1.60, 27.5,1.30, 29.0,1.20, 28.5,1.05, 24.0,1.10, 21.0,1.02, 26.0,1.25, 18.0,1.05, 29.5,1.40, 30.0,1.15, 6.0,1.05, 12.0,1.05],
  [0.3,2.22, 14.8,2.96, 18.3,3.02, 18.7,2.98, 19.5,2.88, 13.9,2.64, 18.3,2.64, 18.7,2.58, 18.0,2.53, 18.8,2.50, 20.0,2.43, 14.0,2.43, 12.5,2.40, 18.6,2.25, 18.3,2.20, 14.5,2.20, 13.5,2.15, 19.5,2.12,
   12.0,1.95, 12.5,1.80, 13.0,1.65, 13.5,1.50, 14.0,1.35, 14.5,1.20, 15.0,1.05, 15.5,1.90, 16.0,1.75, 16.5,1.60, 17.0,1.45, 17.5,1.30, 18.0,1.15, 18.5,2.05, 19.0,1.85, 19.5,1.70, 20.0,1.55, 20.5,1.40, 21.0,1.25, 21.5,1.10, 12.2,1.30, 12.8,1.10, 13.2,2.00, 14.2,1.85, 15.2,1.55, 16.2,1.30, 17.2,1.95, 18.2,1.72, 19.2,1.42, 20.2,1.20, 13.8,1.02, 16.8,1.02, 19.8,1.02, 17.8,1.60, 15.8,1.15, 14.8,1.70, 20.8,1.80, 18.8,1.25, 17.0,2.10, 16.0,2.02,
   0.3,1.52, 0.9,1.42, 2.1,1.25, 3.6,1.17, 1.5,1.12, 4.5,1.07, 7.4,1.00, 8.9,1.00, 5.7,1.62, 7.4,1.64, 9.0,1.52, 3.0,1.30, 6.0,1.10, 10.0,1.25, 11.0,1.15, 2.5,1.02,
   12.4,1.55, 12.9,1.40, 13.3,1.25, 13.7,1.75, 14.3,1.60, 14.7,1.45, 15.3,1.30, 15.6,1.02, 16.3,1.15, 16.7,1.85, 17.3,1.65, 17.7,1.02, 18.3,1.38, 18.7,1.50, 19.3,1.10, 19.7,1.95, 20.3,1.65, 20.7,1.05, 21.3,1.45, 18.1,1.88, 19.1,1.58, 15.9,1.42, 14.1,1.05],
  [14.6,3.69, 14.6,3.37, 14.6,3.27, 14.6,3.02, 12.3,2.91, 13.0,2.83, 12.6,2.76, 19.4,2.75, 19.4,2.43, 22.3,2.25, 22.3,2.13, 11.5,2.45, 13.0,2.45, 13.8,2.33, 12.3,2.28, 7.8,2.27, 9.3,2.30, 10.0,2.20, 19.1,2.20, 14.0,2.10, 12.5,2.05, 11.0,1.95, 8.5,1.92, 13.5,1.88, 15.0,1.90, 19.1,1.80, 19.4,1.70,
   0.5,1.20, 1.0,1.05, 1.5,1.35, 2.0,1.15, 2.5,1.45, 3.0,1.25, 3.5,1.08, 4.0,1.60, 4.5,1.30, 5.0,1.12, 5.5,1.40, 6.0,1.22, 6.5,1.02, 7.0,1.55, 7.5,1.35, 8.0,1.15, 8.5,1.65, 9.0,1.30, 9.5,1.10, 10.0,1.50, 10.5,1.28, 11.0,1.05, 11.5,1.70, 12.0,1.40, 12.5,1.20, 13.0,1.60, 13.5,1.35, 14.0,1.12, 14.5,1.50, 15.0,1.25, 15.5,1.05, 16.0,1.45, 16.5,1.30, 17.0,1.15, 17.5,1.55, 18.0,1.38, 18.5,1.08, 19.0,1.40, 19.5,1.22, 20.0,1.05, 20.5,1.35, 21.0,1.15, 21.5,1.30, 22.0,1.05, 22.5,1.02, 6.2,1.75, 9.8,1.80, 11.8,1.85, 16.8,1.72, 10.8,1.60, 13.2,1.75,
   1.2,1.48, 2.2,1.30, 3.2,1.05, 4.2,1.15, 5.2,1.30, 6.8,1.12, 7.8,1.45, 8.8,1.22, 9.8,1.02, 10.2,1.35, 11.2,1.20, 12.2,1.52, 12.8,1.05, 13.8,1.48, 14.2,1.30, 15.2,1.42, 15.8,1.18, 16.2,1.02, 17.2,1.35, 18.2,1.22, 19.8,1.35, 20.8,1.05, 21.8,1.20, 14.8,1.60, 13.5,1.85]
];

const traitData = [snpPointeVerte, snpFloraison, snpCoryneum, snpTordeuseMineuse];

// ---- page geometry (pixels on a 1293 x 976 canvas) ----
const W = 1293, H = 976;
const panels = [
  { box: [80, 57, 616, 404],    yMax: 7.53,  yMin: 0.725, titleXY: [366, 25],  letterXY: [40, 33] },
  { box: [754, 59, 1290, 405],  yMax: 6.34,  yMin: 0.775, titleXY: [1018, 28], letterXY: [726, 33] },
  { box: [78, 555, 615, 904],   yMax: 5.735, yMin: 0.80,  titleXY: [345, 509], letterXY: [52, 517] },
  { box: [756, 555, 1290, 903], yMax: 6.03,  yMin: 0.773, titleXY: [1028, 517], letterXY: [727, 521] }
];
const pxPerMb = 2.2;
const xLeftPad = 9;

const offsets = [];
chromLengthsMb.reduce((acc, len, i) => { offsets[i] = acc; return acc + len; }, 0);

const fx = px => px / W;
const fy = py => 1 - py / H;

const DARK = '#1a1a1a', LIGHT = '#999999', HIT = '#ff0000';
const tickFont = { family: 'Liberation Sans, Arial, sans-serif', size: 14, color: '#2b2b2b' };

const traces = [];
const layout = {
  width: W, height: H, autosize: false,
  margin: { l: 0, r: 0, t: 0, b: 0 },
  paper_bgcolor: '#ffffff', plot_bgcolor: '#ffffff',
  showlegend: false,
  shapes: [], annotations: []
};

traitData.forEach((chroms, k) => {
  const p = panels[k];
  const xs = [], ys = [], cols = [];
  const tickvals = [];
  chroms.forEach((pairs, c) => {
    let lo = Infinity, hi = -Infinity;
    for (let j = 0; j < pairs.length; j += 2) {
      const pos = offsets[c] + pairs[j];
      const v = pairs[j + 1];
      xs.push(pos); ys.push(v);
      cols.push(v > significanceLine ? HIT : (c % 2 === 0 ? DARK : LIGHT));
      lo = Math.min(lo, pos); hi = Math.max(hi, pos);
    }
    tickvals.push((lo + hi) / 2);
  });

  const sfx = k === 0 ? '' : String(k + 1);
  const [x0, y0, x1, y1] = p.box;
  traces.push({
    type: 'scatter', mode: 'markers',
    x: xs, y: ys,
    xaxis: 'x' + sfx, yaxis: 'y' + sfx,
    marker: { color: cols, size: 6, line: { width: 0 } },
    hoverinfo: 'skip'
  });

  const xRange = [-xLeftPad, -xLeftPad + (x1 - x0) / pxPerMb];
  const yTicks = [];
  for (let t = 1; t <= Math.floor(p.yMax); t++) yTicks.push(t);

  layout['xaxis' + sfx] = {
    domain: [fx(x0), fx(x1)], anchor: 'y' + sfx, range: xRange,
    showgrid: false, zeroline: false,
    showline: true, mirror: true, linecolor: '#444444', linewidth: 1,
    tickmode: 'array', tickvals: tickvals, ticktext: chromosomes,
    ticks: '', ticklabelstandoff: 16, tickfont: tickFont,
    title: { text: 'chromosome', font: tickFont, standoff: 19 },
    automargin: false, fixedrange: true
  };
  layout['yaxis' + sfx] = {
    domain: [fy(y1), fy(y0)], anchor: 'x' + sfx, range: [p.yMin, p.yMax],
    showgrid: false, zeroline: false,
    showline: true, mirror: true, linecolor: '#444444', linewidth: 1,
    tickmode: 'array', tickvals: yTicks, ticktext: yTicks.map(String),
    ticks: 'outside', ticklen: 7, tickcolor: '#444444', tickwidth: 1,
    tickangle: -90, ticklabelstandoff: 8, tickfont: tickFont,
    title: { text: '\u2212log<sub>10</sub>(<i>p</i>)', font: { family: tickFont.family, size: 14, color: '#3a3a3a' }, standoff: 18 },
    automargin: false, fixedrange: true
  };

  layout.shapes.push({
    type: 'line', xref: 'x' + sfx + ' domain', yref: 'y' + sfx,
    x0: 0, x1: 1, y0: significanceLine, y1: significanceLine,
    line: { color: '#444444', width: 1, dash: 'dot' }
  });

  layout.annotations.push({
    xref: 'paper', yref: 'paper', x: fx(p.titleXY[0]), y: fy(p.titleXY[1]),
    xanchor: 'center', yanchor: 'middle', showarrow: false,
    text: traitTitles[k],
    font: { family: 'Open Sans, Noto Sans, sans-serif', size: 28, color: '#000000' }
  });
  layout.annotations.push({
    xref: 'paper', yref: 'paper', x: fx(p.letterXY[0]), y: fy(p.letterXY[1]),
    xanchor: 'center', yanchor: 'middle', showarrow: false,
    text: panelLetters[k],
    font: { family: 'Open Sans, Noto Sans, sans-serif', size: 28, color: '#000000' }
  });
});

Plotly.newPlot('chart', traces, layout, { staticPlot: true, displayModeBar: false });
</script>
</body>
</html>
